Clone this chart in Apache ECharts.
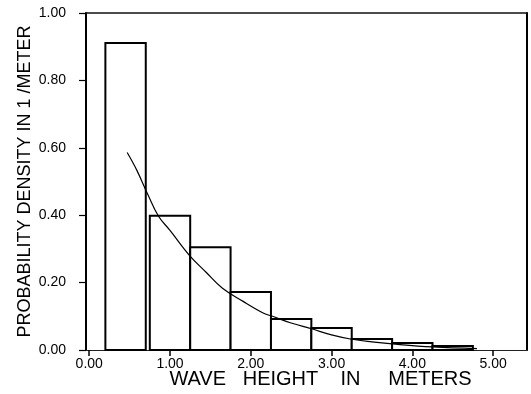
<!DOCTYPE html>
<html>
<head>
<meta charset="utf-8">
<script src="https://cdn.jsdelivr.net/npm/echarts@6/dist/echarts.min.js"></script>
<style>
  html, body { margin: 0; padding: 0; background: #fff; }
  #chart { width: 531px; height: 394px; }
</style>
</head>
<body>
<div id="chart"></div>
<script>
// Histogram bins of wave height (m): lower edge, upper edge, density (1/m)
const binLo = [0.20, 0.75, 1.25, 1.75, 2.25, 2.75, 3.25, 3.75, 4.25];
const binHi = [0.70, 1.25, 1.75, 2.25, 2.75, 3.25, 3.75, 4.25, 4.75];
const density = [0.911, 0.398, 0.305, 0.172, 0.092, 0.065, 0.033, 0.021, 0.012];

// Fitted probability density curve
const curveH = [0.47, 0.59, 0.73, 0.86, 1.00, 1.24, 1.45, 1.65, 1.90, 2.16, 2.27, 2.50, 2.75, 3.00, 3.25, 3.50, 3.75, 4.25, 4.80];
const curveP = [0.586, 0.533, 0.459, 0.396, 0.355, 0.281, 0.230, 0.183, 0.145, 0.109, 0.100, 0.080, 0.063, 0.045, 0.032, 0.024, 0.018, 0.009, 0.004];

// Axis ticks
const xTicks = [0, 1, 2, 3, 4, 5];
const yTicks = [0, 0.2, 0.4, 0.6, 0.8, 1.0];

const tickFont = { color: '#000', fontFamily: 'Liberation Sans, Arial, sans-serif', fontSize: 14 };

const chart = echarts.init(document.getElementById('chart'), null, { renderer: 'canvas' });

chart.setOption({
  animation: false,
  backgroundColor: '#fff',
  grid: { left: 86, right: 4, top: 13, bottom: 43 },
  xAxis: [
    {
      type: 'value',
      min: -0.04,
      max: 5.42,
      name: 'WAVE   HEIGHT    IN     METERS',
      nameLocation: 'middle',
      nameGap: 19,
      nameMoveOverlap: false,
      nameTextStyle: {
        color: '#000', fontFamily: 'Liberation Sans, Arial, sans-serif',
        fontSize: 20, padding: [0, 0, 0, 28]
      },
      axisLine: { show: true, onZero: false, lineStyle: { color: '#222', width: 1.2 } },
      axisTick: { show: true, inside: false, length: 6, customValues: xTicks, lineStyle: { color: '#000', width: 1.5 } },
      axisLabel: { ...tickFont, margin: 7, customValues: xTicks, formatter: v => v.toFixed(2) },
      splitLine: { show: false }
    },
    {
      // top frame line
      type: 'value',
      position: 'top',
      min: -0.04,
      max: 5.42,
      axisLine: { show: true, onZero: false, lineStyle: { color: '#111', width: 1.5 } },
      axisTick: { show: false },
      axisLabel: { show: false },
      splitLine: { show: false }
    }
  ],
  yAxis: [
    {
      type: 'value',
      min: 0,
      max: 1,
      interval: 0.2,
      name: 'PROBABILITY DENSITY IN 1 /METER',
      nameLocation: 'middle',
      nameGap: 52,
      nameMoveOverlap: false,
      nameTextStyle: { color: '#000', fontFamily: 'Liberation Sans, Arial, sans-serif', fontSize: 18 },
      axisLine: { show: true, onZero: false, lineStyle: { color: '#000', width: 2 } },
      axisTick: { show: true, inside: false, length: 7, customValues: yTicks, lineStyle: { color: '#000', width: 1.2 } },
      axisLabel: { ...tickFont, margin: 20, customValues: yTicks, formatter: v => v.toFixed(2) },
      splitLine: { show: false }
    },
    {
      // right frame line
      type: 'value',
      position: 'right',
      min: 0,
      max: 1,
      axisLine: { show: true, onZero: false, lineStyle: { color: '#000', width: 2 } },
      axisTick: { show: false },
      axisLabel: { show: false },
      splitLine: { show: false }
    }
  ],
  series: [
    {
      type: 'custom',
      xAxisIndex: 0,
      yAxisIndex: 0,
      data: binLo.map((lo, i) => [lo, binHi[i], density[i]]),
      encode: { x: [0, 1], y: 2 },
      renderItem: (params, api) => {
        const topLeft = api.coord([api.value(0), api.value(2)]);
        const botRight = api.coord([api.value(1), 0]);
        return {
          type: 'rect',
          shape: {
            x: topLeft[0], y: topLeft[1],
            width: botRight[0] - topLeft[0],
            height: botRight[1] - topLeft[1]
          },
          style: { fill: '#fff', stroke: '#000', lineWidth: 2 }
        };
      },
      z: 2
    },
    {
      type: 'line',
      xAxisIndex: 0,
      yAxisIndex: 0,
      data: curveH.map((h, i) => [h, curveP[i]]),
      smooth: 0.4,
      showSymbol: false,
      lineStyle: { color: '#000', width: 1.2 },
      z: 3
    }
  ]
});
</script>
</body>
</html>
